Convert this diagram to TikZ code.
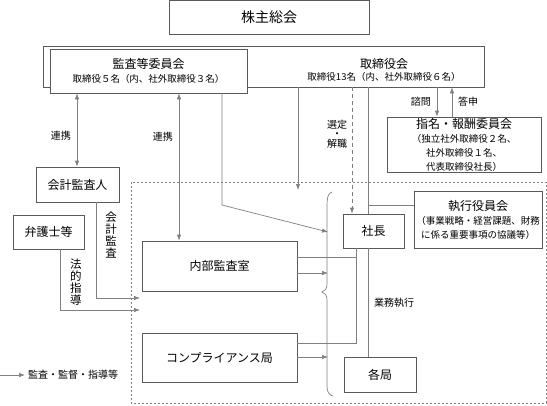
\documentclass[tikz,border=0pt]{standalone}
\usepackage{fontspec}
\setmainfont{Noto Sans CJK JP}
\usetikzlibrary{arrows.meta}
\newcommand{\jbig}{\fontsize{12}{14}\selectfont}
\newcommand{\jsub}{\fontsize{9.5}{11.5}\selectfont}
\begin{document}
\begin{tikzpicture}[x=1pt,y=-1pt,
    box/.style={draw=black!65,fill=white,line width=0.7pt,inner sep=0pt,align=center,font=\jbig},
    conn/.style={draw=black!50,line width=0.7pt},
    lbl/.style={inner sep=0pt,align=center,font=\fontsize{10}{12}\selectfont},
    >={Latex[length=6pt,width=4.5pt]}]
  \useasboundingbox (0,0) rectangle (547,405);
  \draw[black!50,line width=0.6pt,dash pattern=on 2pt off 2pt] (131,182) rectangle (546,403);
  \node[box,minimum width=200pt,minimum height=34pt,font=\fontsize{14}{16}\selectfont] (soukai) at (269,17.5) {株主総会};
  \node[box,minimum width=441pt,minimum height=41pt] (torishimari) at (263.5,66.5) {};
  \node[lbl] (torishimaritext) at (384,69.5) {\jbig 取締役会\\\jsub 取締役13名（内、社外取締役６名）};
  \node[box,minimum width=197pt,minimum height=44pt] (kansa) at (148.5,71) {監査等委員会\\\jsub 取締役５名（内、社外取締役３名）};
  \node[box,minimum width=83pt,minimum height=35pt] (kaikei) at (77.5,184.5) {会計監査人};
  \node[box,minimum width=71pt,minimum height=34pt] (bengoshi) at (48.5,232) {弁護士等};
  \node[box,minimum width=155pt,minimum height=50pt] (naibu) at (219.5,266) {内部監査室};
  \node[box,minimum width=155pt,minimum height=49pt] (compliance) at (219.5,357.5) {コンプライアンス局};
  \node[box,minimum width=154pt,minimum height=55pt] (shimei) at (464,144.5) {指名・報酬委員会\\\jsub （独立社外取締役２名、\\\jsub 社外取締役１名、\\\jsub 代表取締役社長）};
  \node[box,minimum width=128pt,minimum height=57pt] (shikko) at (478,219.5) {執行役員会\\\jsub （事業戦略・経営課題、財務\\\jsub に係る重要事項の協議等）};
  \coordinate (exectop) at (298,190);
  \coordinate (brace1) at (328,232);
  \coordinate (brace2) at (328,273);
  \coordinate (brace3) at (328,357);
  \coordinate (in1) at (140,298);
  \coordinate (in2) at (140,310);
  \coordinate (leg) at (0,375);
  \draw[conn] (368,0 |- torishimari.south) -- (368,230);
  \draw[conn] (368,205) -- (368,205 -| shikko.west);
  \node[box,minimum width=61pt,minimum height=34pt] (shacho) at (373.5,231) {社長};
  \node[box,minimum width=72pt,minimum height=35pt] (kakukyoku) at (380,374.5) {各局};
  \draw[conn,<->] (77,0 |- kansa.south) -- (77,0 |- kaikei.north);
  \node[lbl,anchor=east] at (71,136) {連携};
  \draw[conn,<->] (179,0 |- kansa.south) -- (179,0 |- naibu.north);
  \node[lbl,anchor=east] at (173,137) {連携};
  \draw[conn,->] (222,0 |- kansa.south) -- (222,205) -- (brace1);
  \draw[conn,->] (298,0 |- torishimari.south) -- (exectop);
  \draw[conn,->,dash pattern=on 4pt off 3pt] (352,0 |- torishimari.south) -- (352,0 |- shacho.north);
  \node[lbl,font=\fontsize{10}{9.5}\selectfont] at (337,134) {選定\\・\\解職};
  \draw[conn,->] (437,0 |- torishimari.south) -- (437,0 |- shimei.north);
  \node[lbl,anchor=east] at (431,102) {諮問};
  \draw[conn,->] (452,0 |- shimei.north) -- (452,0 |- torishimari.south);
  \node[lbl,anchor=west] at (458,102) {答申};
  \draw[conn,->] (96,0 |- kaikei.south) -- (96,298) -- (in1);
  \node[lbl,font=\fontsize{11.5}{11.8}\selectfont] at (111,235) {会\\計\\監\\査};
  \draw[conn,->] (60,0 |- bengoshi.south) -- (60,310) -- (in2);
  \node[lbl,font=\fontsize{11.5}{11.8}\selectfont] at (76,282) {法\\的\\指\\導};
  \draw[conn,->] (naibu.east |- brace2) -- (brace2);
  \draw[conn,->] (compliance.east |- brace3) -- (brace3);
  \draw[conn] (356,0 |- shacho.south) -- (356,343) -- (356,343 -| compliance.east);
  \draw[conn] (356,257) -- (356,257 -| naibu.east);
  \draw[conn] (368,0 |- shacho.south) -- (368,0 |- kakukyoku.north);
  \node[lbl] at (394,303) {業務執行};
  \draw[conn] (332,192) .. controls (328,193) and (327,198) .. (327,205) -- (327,284)
    .. controls (327,289) and (325,291) .. (322,292)
    .. controls (325,293) and (327,295) .. (327,300) -- (327,386)
    .. controls (327,392) and (329,395) .. (333,396);
  \node[lbl,anchor=west] (legtext) at (28,375) {監査・監督・指導等};
  \draw[conn,->,shorten >=3pt] (leg) -- (legtext.west);
\end{tikzpicture}
\end{document}
